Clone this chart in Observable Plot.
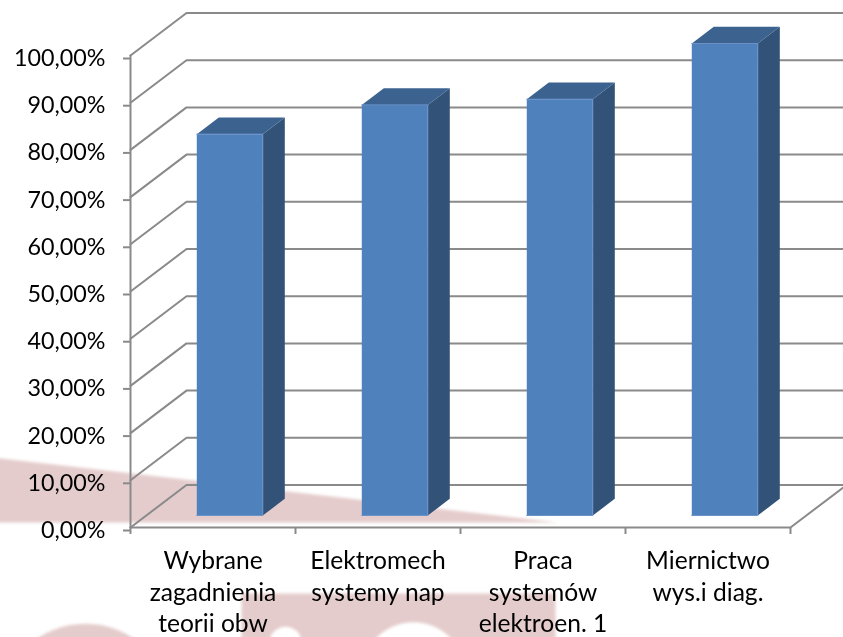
<!DOCTYPE html>
<html lang="pl">
<head>
<meta charset="utf-8">
<style>
  html, body { margin: 0; padding: 0; background: #fff; }
  #chart { width: 843px; height: 637px; overflow: hidden; }
  #chart svg { display: block; background: #fff; filter: blur(0.35px); }
</style>
<script src="https://cdn.jsdelivr.net/npm/d3@7"></script>
<script src="https://cdn.jsdelivr.net/npm/@observablehq/plot@0.6"></script>
</head>
<body>
<div id="chart"></div>
<script>
// Chart data
const categories = ["Wybrane\nzagadnienia\nteorii obw", "Elektromech\nsystemy nap", "Praca\nsystemów\nelektroen. 1", "Miernictwo\nwys.i diag."];
const values = [80.8, 87, 88.2, 100];
const yTicks = [0, 10, 20, 30, 40, 50, 60, 70, 80, 90, 100];

// Oblique depth of the fake-3D box, in data units for one full depth step
const depthX = 0.3394, depthY = 9;
const barFrontDepth = 0.282, barBackDepth = 0.675, barOffset = 0.306, barWidth = 0.4;
const project = (cat, val, depth) => ({x: cat + depth * depthX, y: val + depth * depthY});

// Faded watermark behind the chart, in data units
const wedge = [
  {x: -0.9, y: 15.1}, {x: 2.588, y: 1.06}, {x: -0.9, y: 1.06}
];
const block = [
  {x: 0.673, y: -13.98}, {x: 2.576, y: -13.98}, {x: 2.576, y: -26}, {x: 0.673, y: -26}
];
const pinkHumps = [{x: -0.273, y: -38.6}];
const whiteLarge = [{x: 1.715, y: -31.1}];
const whiteSmall = [{x: 0.94, y: -24.4}];

const gridLines = yTicks.flatMap((v) => [
  project(0, v, 0), project(0, v, 1), project(4, v, 1)
].map((p) => ({...p, v})));
const floorEdge = [project(0, 0, 0), project(4, 0, 0), project(4, 0, 1)];
const wallEdge = [project(0, 0, 0), project(0, 100, 0)];

const faces = (face) => values.flatMap((v, i) => {
  const l = i + barOffset, r = l + barWidth;
  const a = barFrontDepth, b = barBackDepth;
  const poly = {
    front: [[l, 0, a], [r, 0, a], [r, v, a], [l, v, a]],
    top:   [[l, v, a], [r, v, a], [r, v, b], [l, v, b]],
    side:  [[r, 0, a], [r, 0, b], [r, v, b], [r, v, a]]
  }[face];
  return poly.map(([c, val, d]) => ({...project(c, val, d), i}));
});

const pct = (d) => d.toFixed(2).replace(".", ",") + "%";
const GRID = "#8a8a8a", PINK = "#e5cccc";
// Soft edge for the watermark shapes
const soften = (index, scales, values, dimensions, context, next) => {
  const g = next(index, scales, values, dimensions, context);
  g.style.filter = "blur(1.5px)";
  return g;
};
const wm = {render: soften, stroke: "none"};

const plot = Plot.plot({
  width: 843,
  height: 637,
  marginLeft: 130,
  marginRight: 53,
  marginTop: 55,
  marginBottom: 110,
  style: {fontFamily: "Lato, 'Open Sans', sans-serif", background: "#fff", overflow: "hidden"},
  x: {domain: [0, 4], axis: null},
  y: {domain: [0, 100], axis: null},
  marks: [
    Plot.line(wedge, {x: "x", y: "y", fill: PINK, ...wm}),
    Plot.line(block, {x: "x", y: "y", fill: PINK, ...wm}),
    Plot.dot(pinkHumps, {x: "x", y: "y", r: 86, fill: PINK, ...wm}),
    Plot.dot(whiteLarge, {x: "x", y: "y", r: 52, fill: "#fff", ...wm}),
    Plot.dot(whiteSmall, {x: "x", y: "y", r: 16, fill: "#fff", ...wm}),

    Plot.line(gridLines, {x: "x", y: "y", z: "v", stroke: GRID, strokeWidth: 2, curve: "linear"}),
    Plot.line(floorEdge, {x: "x", y: "y", stroke: GRID, strokeWidth: 2}),
    Plot.line(wallEdge, {x: "x", y: "y", stroke: GRID, strokeWidth: 2}),

    Plot.line(faces("side"), {x: "x", y: "y", z: "i", fill: "#325277", stroke: "none"}),
    Plot.line(faces("top"), {x: "x", y: "y", z: "i", fill: "#3c6390", stroke: "none"}),
    Plot.line(faces("front"), {x: "x", y: "y", z: "i", fill: "#4f81bd", stroke: "#6a93c8", strokeWidth: 1}),

    Plot.axisY({
      ticks: yTicks, tickFormat: pct, tickSize: 7, tickPadding: 18,
      stroke: GRID, strokeWidth: 2, fill: "#000", fontSize: 23.3, label: null, anchor: "left", dy: 3
    }),
    Plot.axisX({
      ticks: [0, 1, 2, 3, 4], tickFormat: () => "", tickSize: 7,
      stroke: GRID, strokeWidth: 2, label: null, anchor: "bottom"
    }),
    Plot.text(categories, {
      x: (d, i) => i + 0.5, y: () => 0, text: (d) => d, dy: 19,
      lineAnchor: "top", lineHeight: 1.29, fontSize: 24.6, fill: "#000", textAnchor: "middle"
    })
  ]
});
document.getElementById("chart").appendChild(plot);
</script>
</body>
</html>
